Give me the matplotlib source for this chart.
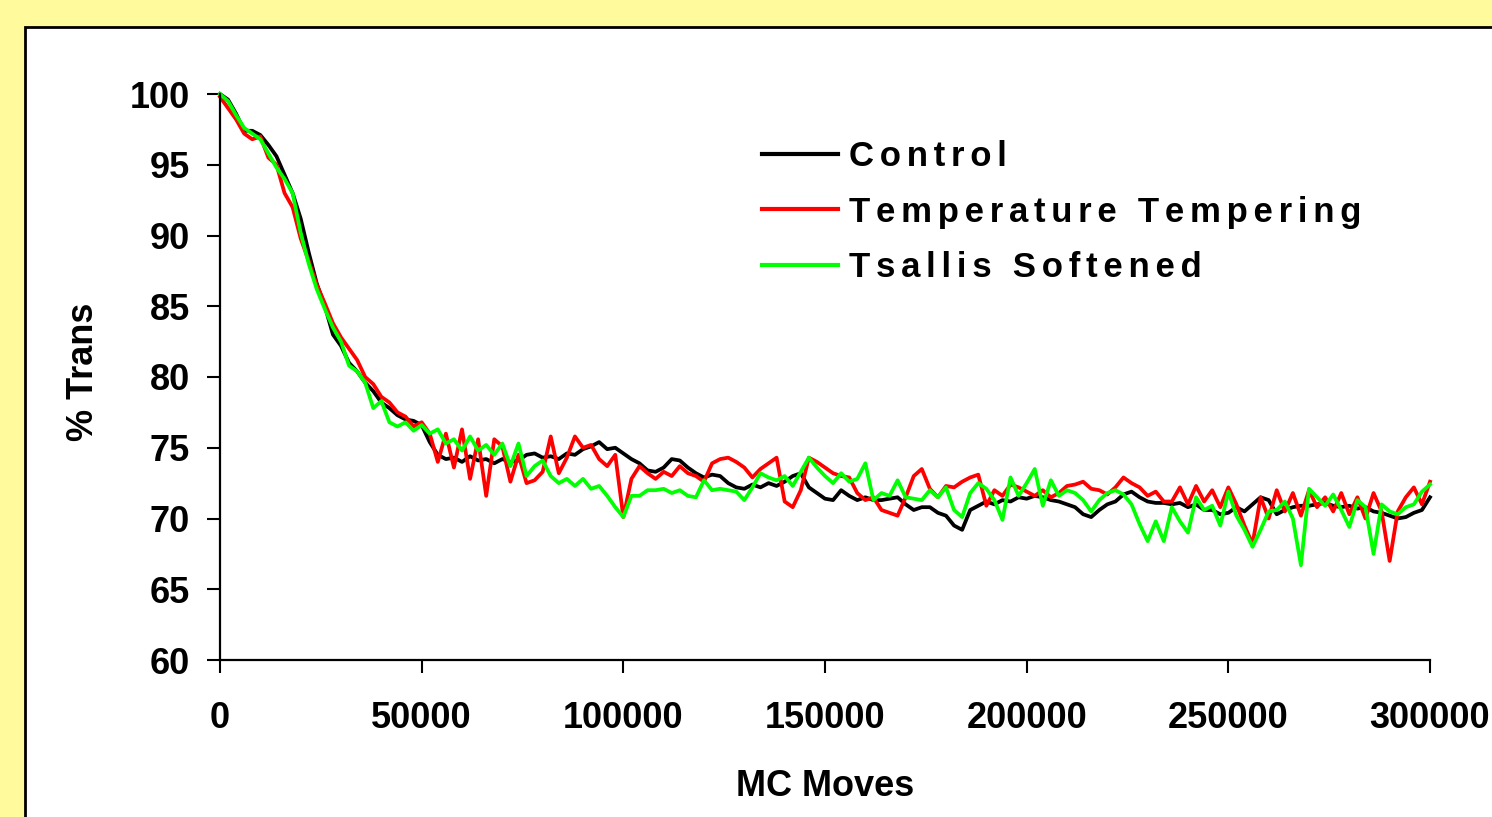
import numpy as np
import matplotlib
matplotlib.use("Agg")
from matplotlib import pyplot as plt
from matplotlib.patches import Rectangle

# MC moves sampled every 2000 steps
moves = np.arange(0, 300001, 2000)

control = [
    100.0, 99.6, 98.6, 97.4, 97.4, 97.1, 96.4, 95.6, 94.3, 93.0,
    91.2, 88.8, 86.6, 85.0, 83.0, 82.2, 81.0, 80.4, 79.6, 79.0,
    78.2, 77.8, 77.3, 77.0, 76.9, 76.6, 75.4, 74.5, 74.2, 74.3,
    74.0, 74.4, 74.1, 74.2, 73.9, 74.2, 74.0, 74.1, 74.5, 74.6,
    74.3, 74.4, 74.2, 74.6, 74.5, 74.9, 75.1, 75.4, 74.9, 75.0,
    74.6, 74.2, 73.9, 73.4, 73.3, 73.6, 74.2, 74.1, 73.6, 73.2,
    72.9, 73.1, 73.0, 72.5, 72.2, 72.1, 72.4, 72.2, 72.5, 72.3,
    72.6, 73.0, 73.2, 72.2, 71.8, 71.4, 71.3, 72.0, 71.6, 71.3,
    71.5, 71.3, 71.3, 71.4, 71.5, 71.0, 70.6, 70.8, 70.8, 70.4,
    70.2, 69.5, 69.2, 70.6, 70.9, 71.2, 71.0, 71.3, 71.2, 71.5,
    71.4, 71.6, 71.5, 71.3, 71.2, 71.0, 70.8, 70.3, 70.1, 70.6,
    71.0, 71.2, 71.7, 71.9, 71.5, 71.2, 71.1, 71.1, 71.0, 71.1,
    70.8, 71.0, 70.6, 70.6, 70.3, 70.4, 70.8, 70.5, 71.0, 71.5,
    71.3, 70.3, 70.6, 70.8, 70.9, 70.9, 71.0, 71.1, 70.9, 70.8,
    70.9, 70.7, 70.8, 70.5, 70.4, 70.2, 70.0, 70.1, 70.4, 70.6,
    71.5,
]

tempering = [
    99.8, 99.0, 98.2, 97.2, 96.8, 97.0, 95.5, 95.0, 93.0, 92.0,
    89.8, 88.2, 86.5, 85.2, 83.8, 82.8, 82.0, 81.2, 80.0, 79.5,
    78.6, 78.2, 77.5, 77.2, 76.5, 76.8, 76.0, 74.0, 76.0, 73.6,
    76.3, 72.8, 75.6, 71.6, 75.6, 75.1, 72.6, 74.5, 72.5, 72.7,
    73.3, 75.8, 73.2, 74.3, 75.8, 75.0, 75.2, 74.2, 73.7, 74.5,
    70.1, 72.8, 73.7, 73.2, 72.8, 73.3, 73.0, 73.7, 73.2, 73.0,
    72.6, 73.9, 74.2, 74.3, 74.0, 73.6, 72.9, 73.5, 73.9, 74.3,
    71.2, 70.8, 72.0, 74.3, 74.0, 73.6, 73.2, 73.0, 72.9, 71.8,
    71.3, 71.5, 70.6, 70.4, 70.2, 71.5, 73.0, 73.5, 72.1, 71.5,
    72.3, 72.2, 72.6, 72.9, 73.1, 70.9, 72.0, 71.6, 72.4, 72.2,
    71.9, 71.6, 72.0, 71.5, 71.8, 72.3, 72.4, 72.6, 72.1, 72.0,
    71.7, 72.2, 72.9, 72.5, 72.2, 71.6, 71.9, 71.2, 71.2, 72.2,
    71.0, 72.3, 71.2, 72.0, 70.8, 72.2, 71.0, 69.5, 68.2, 71.5,
    70.0, 72.0, 70.5, 71.8, 70.2, 72.0, 70.8, 71.5, 70.5, 71.8,
    70.3, 71.5, 70.0, 71.8, 70.5, 67.0, 70.5, 71.5, 72.2, 71.0,
    72.6,
]

tsallis = [
    100.0, 99.5, 98.5, 97.6, 97.2, 96.8, 95.8, 94.8, 94.0, 93.0,
    90.2, 88.0, 86.2, 84.8, 83.5, 82.5, 80.8, 80.4, 79.6, 77.8,
    78.3, 76.8, 76.5, 76.8, 76.2, 76.6, 76.0, 76.3, 75.3, 75.6,
    74.8, 75.8, 74.8, 75.2, 74.5, 75.3, 73.7, 75.3, 73.0, 73.7,
    74.1, 73.0, 72.5, 72.8, 72.3, 72.8, 72.1, 72.3, 71.6, 70.8,
    70.1, 71.6, 71.6, 72.0, 72.0, 72.1, 71.8, 72.0, 71.6, 71.5,
    72.7, 72.0, 72.1, 72.0, 71.9, 71.3, 72.2, 73.2, 72.9, 72.7,
    73.0, 72.3, 73.3, 74.3, 73.6, 73.0, 72.5, 73.2, 72.6, 72.8,
    73.9, 71.3, 71.8, 71.6, 72.7, 71.5, 71.4, 71.3, 72.0, 71.5,
    72.2, 70.6, 70.1, 71.8, 72.5, 72.1, 71.3, 69.9, 72.9, 71.6,
    72.5, 73.5, 70.9, 72.7, 71.6, 72.0, 71.8, 71.3, 70.5, 71.3,
    71.8, 72.0, 71.7, 71.0, 69.6, 68.4, 69.8, 68.4, 70.8, 69.8,
    69.0, 71.5, 70.6, 70.9, 69.5, 71.9, 70.2, 69.2, 68.0, 69.2,
    70.5, 70.6, 71.2, 70.0, 66.7, 72.1, 71.5, 70.9, 71.7, 70.6,
    69.4, 71.3, 70.8, 67.5, 71.0, 70.5, 70.3, 70.8, 71.0, 71.9,
    72.4,
]

series_names = ["Control", "Temperature Tempering", "Tsallis Softened"]
series_colors = ["#000000", "#FF0000", "#00FF00"]

plt.rcParams["font.family"] = ["Liberation Sans", "DejaVu Sans"]
plt.rcParams["font.weight"] = "bold"

W, H = 1492, 817
fig = plt.figure(figsize=(W / 100, H / 100), dpi=100, facecolor="#FFFA9B")

# white chart area with a black frame, running off the right/bottom edge
panel = Rectangle((25 / W, -0.1), 1.2, 1.1 - 27 / H, transform=fig.transFigure,
                  facecolor="white", edgecolor="black", linewidth=2, zorder=0)
fig.add_artist(panel)

ax = fig.add_axes([220 / W, 1 - 660 / H, 1210 / W, 566 / H])
ax.set_facecolor("none")


def spaced(text):
    # widen the legend text a little, narrow space between letters
    return "\u2006".join(text)


for ys, name, col in zip([control, tempering, tsallis], series_names, series_colors):
    ax.plot(moves, ys, color=col, linewidth=2.7, label=spaced(name), clip_on=False)

ax.set_xlim(0, 300000)
ax.set_ylim(60, 100)
ax.set_xticks(np.arange(0, 300001, 50000))
ax.set_yticks(np.arange(60, 101, 5))
ax.set_xticklabels([str(v) for v in range(0, 300001, 50000)])

for side in ["top", "right"]:
    ax.spines[side].set_visible(False)
for side in ["left", "bottom"]:
    ax.spines[side].set_linewidth(1.6)

ax.tick_params(axis="both", direction="out", length=9.5, width=1.5,
               labelsize=26, colors="black")
ax.tick_params(axis="y", pad=12)
ax.tick_params(axis="x", pad=20)

ax.set_xlabel("MC Moves", fontsize=26, fontweight="bold")
ax.xaxis.label.set_va("center")
ax.xaxis.set_label_coords(0.5, -0.224)
ax.set_ylabel("% Trans", fontsize=26, fontweight="bold")
ax.yaxis.label.set_va("center")
ax.yaxis.set_label_coords(-0.113, 0.509)

leg = ax.legend(loc="upper left", bbox_to_anchor=(762 / W, 1 - 140 / H),
                bbox_transform=fig.transFigure, frameon=False,
                fontsize=25, handlelength=2.2, handletextpad=0.3,
                labelspacing=0.65, borderaxespad=0, borderpad=0)
for line in leg.get_lines():
    line.set_linewidth(3)

fig.savefig("out.png", dpi=100, facecolor=fig.get_facecolor())
